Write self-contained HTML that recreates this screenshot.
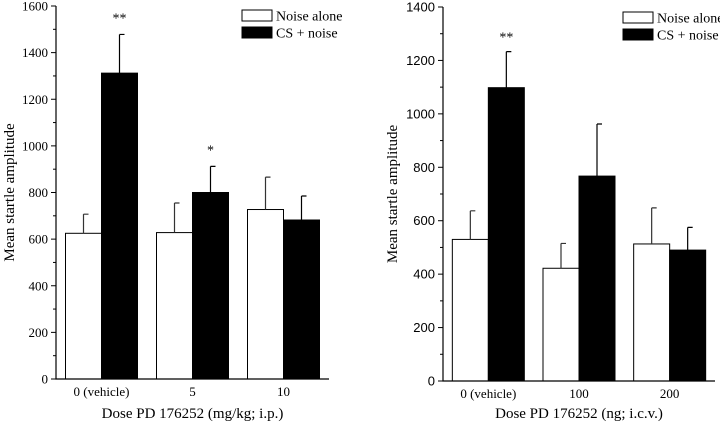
<!DOCTYPE html>
<html><head><meta charset="utf-8"><style>
html,body{margin:0;padding:0;background:#fff;}
svg{display:block;}
</style></head><body>
<svg id="c" width="720" height="422" xmlns="http://www.w3.org/2000/svg"></svg>
<script>
const categoriesA = ["0 (vehicle)", "5", "10"];
const noiseA = [625, 628, 727];
const noiseErrA = [82, 127, 139];
const csA = [1312, 800, 682];
const csErrA = [166, 112, 103];
const starsA = ["**", "*", ""];
const ticksA = [0, 200, 400, 600, 800, 1000, 1200, 1400, 1600];

const categoriesB = ["0 (vehicle)", "100", "200"];
const noiseB = [530, 422, 513];
const noiseErrB = [107, 93, 135];
const csB = [1098, 767, 490];
const csErrB = [135, 195, 85];
const starsB = ["**", "", ""];
const ticksB = [0, 200, 400, 600, 800, 1000, 1200, 1400];

const NS = "http://www.w3.org/2000/svg";
const svg = document.getElementById("c");
function mk(tag, attrs, parent) {
  const e = document.createElementNS(NS, tag);
  for (const k in attrs) e.setAttribute(k, attrs[k]);
  (parent || svg).appendChild(e);
  return e;
}
const serif = '"Liberation Serif", serif';
const sans = '"Liberation Sans", sans-serif';

function chart(cfg) {
  const g = mk("g", {});
  
  
  const yMax = cfg.ticks[cfg.ticks.length - 1];
  const y = v => cfg.y0 - v / yMax * (cfg.y0 - cfg.y1);
  const n = cfg.cats.length;
  const step = (cfg.x1 - cfg.x0) / n;
  const xc = i => cfg.x0 + step * (i + 0.5);
  const bw = 36;
  for (let i = 0; i < n; i++) {
    const vals = [[cfg.noise[i], cfg.noiseErr[i], "#fff", "noise-alone-bar"], [cfg.cs[i], cfg.csErr[i], "#000", "cs-noise-bar"]];
    vals.forEach((v, j) => {
      const bx = xc(i) - bw + j * bw;
      const r = mk("rect", {x: bx, y: y(v[0]), width: bw, height: y(0) - y(v[0]), fill: v[2], stroke: "#000", "stroke-width": 1}, g);
      
      
      const ex = bx + bw / 2;
      const e = mk("path", {d: `M${ex} ${y(v[0])}V${y(v[0] + v[1])}M${ex} ${y(v[0] + v[1])}h5`, stroke: j ? "#000" : "#333", "stroke-width": 1.2, fill: "none"}, g);
      
      
    });
    if (cfg.stars[i]) {
      const s = mk("text", {x: xc(i) + bw / 2, y: y(cfg.cs[i] + cfg.csErr[i]) - cfg.starOff, "text-anchor": "middle", "font-family": serif, "font-size": 14}, g);
      s.textContent = cfg.stars[i];
      
      
    }
    const cl = mk("text", {x: xc(i), y: y(0) + 17, "text-anchor": "middle", "font-family": serif, "font-size": 13}, g);
    cl.textContent = cfg.cats[i];
    
    
  }
  const ax = mk("path", {d: `M${cfg.x0} ${cfg.y1}V${cfg.y0}H${cfg.x1}`, stroke: "#000", "stroke-width": 1.2, fill: "none"}, g);
  
  
  for (let k = 0; k < cfg.ticks.length; k++) {
    const t = cfg.ticks[k];
    mk("line", {x1: cfg.x0 - 5, x2: cfg.x0, y1: y(t), y2: y(t), stroke: "#000"}, g);
    if (k < cfg.ticks.length - 1) {
      const m = (t + cfg.ticks[k + 1]) / 2;
      mk("line", {x1: cfg.x0 - 3, x2: cfg.x0, y1: y(m), y2: y(m), stroke: "#000"}, g);
    }
    const tl = mk("text", {x: cfg.x0 - 8, y: y(t) + 4.5, "text-anchor": "end", "font-family": cfg.tickFont, "font-size": 13}, g);
    tl.textContent = t;
    
    
  }
  const yt = mk("text", {x: 0, y: 0, transform: `translate(${cfg.ytx},${(cfg.y0 + cfg.y1) / 2}) rotate(-90)`, "text-anchor": "middle", "font-family": serif, "font-size": 15}, g);
  yt.textContent = "Mean startle amplitude";
  
  
  const xt = mk("text", {x: (cfg.x0 + cfg.x1) / 2, y: 418, "text-anchor": "middle", "font-family": serif, "font-size": 15}, g);
  xt.textContent = cfg.xtitle;
  
  
  [["Noise alone", "#fff"], ["CS + noise", "#000"]].forEach((l, j) => {
    const ly = cfg.ly + j * 17;
    const r = mk("rect", {x: cfg.lx, y: ly, width: 30, height: 11, fill: l[1], stroke: "#000"}, g);
    
    
    const t = mk("text", {x: cfg.lx + 34, y: ly + 10.5, "font-family": serif, "font-size": 14}, g);
    t.textContent = l[0];
    
    
  });
}

chart({name: "left-chart", cats: categoriesA, noise: noiseA, noiseErr: noiseErrA, cs: csA, csErr: csErrA, stars: starsA, ticks: ticksA,
  x0: 56, x1: 329, y0: 379, y1: 6, tickFont: serif, ytx: 14, xtitle: "Dose PD 176252 (mg/kg; i.p.)", lx: 242, ly: 10, starOff: 12});
chart({name: "right-chart", cats: categoriesB, noise: noiseB, noiseErr: noiseErrB, cs: csB, csErr: csErrB, stars: starsB, ticks: ticksB,
  x0: 443, x1: 715, y0: 381, y1: 7, tickFont: sans, ytx: 397, xtitle: "Dose PD 176252 (ng; i.c.v.)", lx: 623, ly: 12, starOff: 10});
</script>
</body></html>
